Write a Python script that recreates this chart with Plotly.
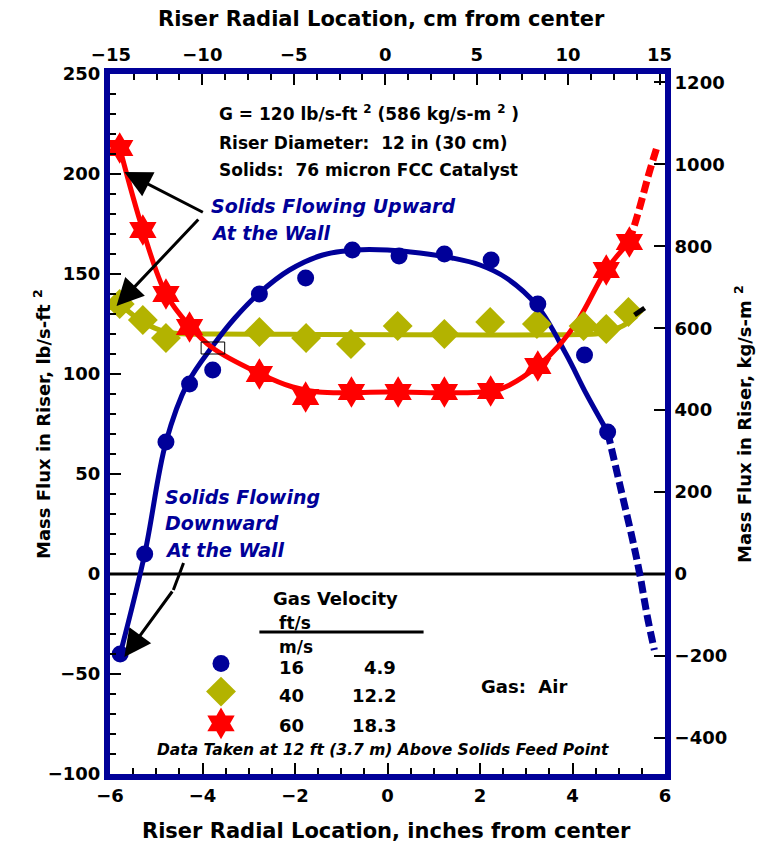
import plotly.graph_objects as go

# ---------------- data ----------------
# measured points, 16 ft/s (blue circles)
blue_x = [-5.78, -5.25, -4.79, -4.28, -3.78, -2.77, -1.77, -0.76, 0.25, 1.23, 2.24, 3.25, 4.26, 4.76]
blue_y = [-40, 10, 66, 95, 102, 140, 148, 162, 159, 160, 157, 135, 109.5, 71]
# measured points, 40 ft/s (olive diamonds)
olive_x = [-5.79, -5.29, -4.79, -2.77, -1.76, -0.79, 0.22, 1.23, 2.22, 3.23, 4.24, 4.73, 5.21]
olive_y = [135, 127, 118, 121, 118, 115, 124, 120, 126, 125, 124, 122.5, 131]
# measured points, 60 ft/s (red stars)
red_x = [-5.79, -5.29, -4.79, -4.28, -2.77, -1.77, -0.78, 0.23, 1.23, 2.23, 3.25, 4.73, 5.23]
red_y = [213, 172, 140, 123.5, 100, 88.5, 91, 91, 91, 91.5, 104, 152, 166]

# hand-drawn fit curves (vertices)
blue_fit_x = [-5.78, -5.25, -4.79, -4.32, -3.78, -3.3, -2.77, -2.12, -1.4, -0.7, 0.0, 0.7, 1.4, 2.0, 2.57, 3.24, 3.86, 4.3, 4.76]
blue_fit_y = [-40, 10, 66, 95.5, 114, 128, 140.5, 152, 159.5, 162, 162, 160.5, 158, 154.5, 148, 134, 110, 90, 71]
blue_ext_x = [4.76, 5.02, 5.3, 5.45, 5.62, 5.77]
blue_ext_y = [71, 45, 17, 0.5, -21.5, -38]

red_fit_x = [-5.79, -5.29, -4.79, -4.28, -3.78, -2.77, -2.05, -1.5, 0.0, 2.3, 2.64, 3.25, 3.7, 4.15, 4.73, 5.23]
red_fit_y = [213, 172, 140, 124, 113, 100.3, 93.5, 91, 91, 91.5, 94.5, 104, 114, 128, 152, 166]
red_ext_x = [5.23, 5.45, 5.65, 5.84]
red_ext_y = [166, 183, 200, 214.5]

olive_fit_x = [-5.79, -5.29, -4.79, -4.35, -3.8, 4.5, 4.65, 5.08, 5.38]
olive_fit_y = [135, 126, 121, 120, 120, 120, 120.5, 124, 129]

# legend table
leg_ft = ["16", "40", "60"]
leg_m = ["4.9", "12.2", "18.3"]
leg_y = [-46.5, -60.5, -75.5]
leg_sym_y = [-44.7, -58.8, -74.7]

NAVY = "#000099"
RED = "#FF0000"
OLIVE = "#B3B300"
FONT = "DejaVu Sans, Verdana, sans-serif"

fig = go.Figure()

# zero line
fig.add_trace(go.Scatter(x=[-6, 6], y=[0, 0], mode="lines",
                         line=dict(color="black", width=3), hoverinfo="skip"))

# fit curves
fig.add_trace(go.Scatter(x=olive_fit_x, y=olive_fit_y, mode="lines", line_shape="spline",
                         line=dict(color=OLIVE, width=5)))
fig.add_trace(go.Scatter(x=blue_fit_x, y=blue_fit_y, mode="lines", line_shape="spline",
                         line=dict(color=NAVY, width=5)))
fig.add_trace(go.Scatter(x=blue_ext_x, y=blue_ext_y, mode="lines", line_shape="spline",
                         line=dict(color=NAVY, width=7, dash="12px,5px")))
fig.add_trace(go.Scatter(x=red_fit_x, y=red_fit_y, mode="lines", line_shape="spline",
                         line=dict(color=RED, width=5)))
fig.add_trace(go.Scatter(x=red_ext_x, y=red_ext_y, mode="lines", line_shape="spline",
                         line=dict(color=RED, width=7, dash="12px,5px")))

# markers
fig.add_trace(go.Scatter(x=olive_x, y=olive_y, mode="markers",
                         marker=dict(symbol="diamond", size=23, color=OLIVE)))
fig.add_trace(go.Scatter(x=blue_x, y=blue_y, mode="markers",
                         marker=dict(symbol="circle", size=17, color=NAVY)))
fig.add_trace(go.Scatter(x=red_x, y=red_y, mode="markers",
                         marker=dict(symbol="hexagram", size=24, color=RED)))

# legend symbols
fig.add_trace(go.Scatter(x=[-3.6], y=[leg_sym_y[0]], mode="markers",
                         marker=dict(symbol="circle", size=17, color=NAVY)))
fig.add_trace(go.Scatter(x=[-3.6], y=[leg_sym_y[1]], mode="markers",
                         marker=dict(symbol="diamond", size=23, color=OLIVE)))
fig.add_trace(go.Scatter(x=[-3.6], y=[leg_sym_y[2]], mode="markers",
                         marker=dict(symbol="hexagram", size=24, color=RED)))

# legend underline
fig.add_trace(go.Scatter(x=[-2.77, 0.78], y=[-29, -29], mode="lines",
                         line=dict(color="black", width=3)))
# small black tick near olive end
fig.add_trace(go.Scatter(x=[5.34, 5.56], y=[129.5, 133], mode="lines",
                         line=dict(color="black", width=5)))
# bent part of downward arrow
fig.add_trace(go.Scatter(x=[-4.41, -4.63], y=[5.5, -8], mode="lines",
                         line=dict(color="black", width=3)))

# dummy trace to activate secondary axes
fig.add_trace(go.Scatter(x=[0], y=[0], xaxis="x2", yaxis="y2", mode="markers",
                         marker=dict(opacity=0), hoverinfo="skip"))

# small artifact rectangle
fig.add_shape(type="rect", x0=-4.03, x1=-3.52, y0=110, y1=116,
              line=dict(color="black", width=1))

ann = []
def txt(x, y, s, size=16, color="black", italic=False, xanchor="left"):
    ann.append(dict(x=x, y=y, xref="x", yref="y", text=s, showarrow=False,
                    xanchor=xanchor, yanchor="middle",
                    font=dict(family=FONT, size=size, color=color, weight="bold",
                              style="italic" if italic else "normal")))

txt(-3.68, 230.5, "G = 120 lb/s-ft <sup>2</sup> (586 kg/s-m <sup>2</sup> )", 17)
txt(-3.68, 215.5, "Riser Diameter:  12 in (30 cm)", 17)
txt(-3.68, 202, "Solids:  76 micron FCC Catalyst", 17)
txt(-3.85, 184, "Solids Flowing Upward", 19, NAVY, True)
txt(-3.85, 170.5, "At the Wall", 19, NAVY, True)
txt(-4.86, 38.5, "Solids Flowing", 19, NAVY, True)
txt(-4.86, 25.5, "Downward", 19, NAVY, True)
txt(-4.86, 12, "At the Wall", 19, NAVY, True)
txt(-2.51, -12, "Gas Velocity", 18)
txt(-2.38, -24.5, "ft/s", 17)
txt(-2.38, -36.5, "m/s", 17)
for f, m, yy in zip(leg_ft, leg_m, leg_y):
    txt(-2.38, yy, f, 18)
    txt(0.22, yy, m, 18, xanchor="right")
txt(1.97, -56, "Gas:  Air", 18)
txt(-0.1, -88, "Data Taken at 12 ft (3.7 m) Above Solids Feed Point", 15.5, "black", True, "center")

def arrow(x_tail, y_tail, x_head, y_head):
    ann.append(dict(x=x_head, y=y_head, ax=x_tail, ay=y_tail, xref="x", yref="y",
                    axref="x", ayref="y", text="", showarrow=True, arrowhead=2,
                    arrowsize=1.8, arrowwidth=3, arrowcolor="black", standoff=0))

arrow(-3.96, 180.5, -5.69, 201)
arrow(-4.06, 178, -5.86, 134)
arrow(-4.63, -8, -5.69, -41.5)

# axis titles
ann.append(dict(x=-0.1477, y=0.5, xref="paper", yref="paper", textangle=-90, showarrow=False,
                text="Mass Flux in Riser, lb/s-ft <sup>2</sup>",
                font=dict(family=FONT, size=18, weight="bold", color="black")))
ann.append(dict(x=1.1658, y=0.5, xref="paper", yref="paper", textangle=-90, showarrow=False,
                text="Mass Flux in Riser, kg/s-m <sup>2</sup>",
                font=dict(family=FONT, size=18, weight="bold", color="black")))
ann.append(dict(x=0.499, y=-0.1014, xref="paper", yref="paper", showarrow=False,
                text="Riser Radial Location, inches from center",
                font=dict(family=FONT, size=21, weight="bold", color="black")))
ann.append(dict(x=0.49, y=1.079, xref="paper", yref="paper", showarrow=False,
                yanchor="middle", xanchor="center",
                text="Riser Radial Location, cm from center",
                font=dict(family=FONT, size=21, weight="bold", color="black")))

tickfont = dict(family=FONT, size=18, weight="bold", color="black")
axis_common = dict(showgrid=False, zeroline=False, showline=True, linecolor=NAVY,
                   linewidth=6, ticks="inside", ticklen=11, tickwidth=2,
                   tickcolor="black", tickfont=tickfont)

fig.update_layout(
    width=775, height=859,
    margin=dict(l=102, r=118, t=66, b=93),
    paper_bgcolor="white", plot_bgcolor="white",
    showlegend=False,
    annotations=ann,
    xaxis=dict(range=[-6, 6], dtick=2, tick0=0,
               minor=dict(dtick=0.5, ticks="inside", ticklen=6, tickcolor="black", tickwidth=1.5),
               **axis_common),
    yaxis=dict(range=[-100, 250], dtick=50, tick0=0,
               minor=dict(dtick=10, ticks="inside", ticklen=6, tickcolor="black", tickwidth=1.5),
               **axis_common),
    xaxis2=dict(range=[-15.05, 15.3], dtick=5, tick0=0, overlaying="x", side="top",
                minor=dict(dtick=1.25, tick0=0, ticks="inside", ticklen=6, tickcolor="black", tickwidth=1.5),
                **axis_common),
    yaxis2=dict(range=[-100 * 4.882, 250 * 4.882], dtick=200, tick0=0, overlaying="y", side="right",
                **axis_common),
)

fig.write_html("out.html")
